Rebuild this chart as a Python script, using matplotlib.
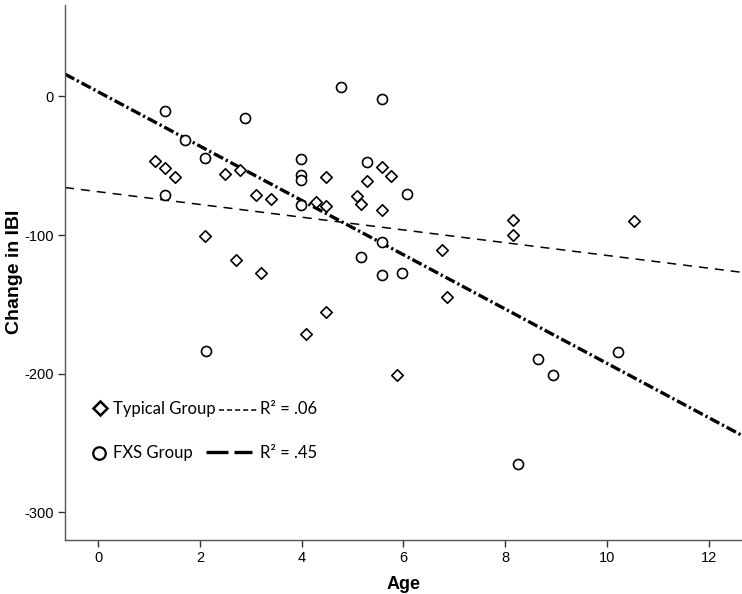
import numpy as np
import matplotlib
matplotlib.use("Agg")
import matplotlib.pyplot as plt
from matplotlib.lines import Line2D

plt.rcParams['font.family'] = ['Liberation Sans', 'DejaVu Sans']
plt.rcParams['lines.scale_dashes'] = False
plt.rcParams['axes.unicode_minus'] = False

# FXS group (circles)
fxs_age = [1.32, 2.89, 1.71, 2.10, 3.98, 3.98, 3.98, 1.32, 3.98, 2.12, 4.77,
           5.57, 5.28, 6.06, 5.57, 5.17, 5.57, 5.97, 8.24, 10.22, 8.64, 8.93]
fxs_ibi = [-10.5, -15.8, -31.4, -44.3, -45.2, -57, -60, -70.8, -78, -183.3, 6.5,
           -1.7, -47.1, -70.4, -105, -115.8, -129, -127.3, -265, -184.3, -189.3, -201]

# Typical group (diamonds)
typ_age = [1.12, 1.32, 1.51, 2.50, 2.79, 3.10, 3.39, 4.47, 4.28, 4.47, 2.10, 2.70,
           3.20, 4.47, 4.08, 5.57, 5.76, 5.28, 5.08, 5.17, 5.57, 6.76, 8.15, 8.15,
           10.52, 6.85, 5.87]
typ_ibi = [-46.2, -51.5, -58.1, -56.2, -53, -71, -74, -58.1, -75.9, -78.7, -100.7,
           -118, -127.5, -155.8, -171.3, -51.2, -57.2, -61.3, -72, -77.3, -82, -111,
           -88.8, -99.8, -90, -144.5, -201]

# fit lines (intercept, slope)
fxs_fit = (3.4, -19.6)
typ_fit = (-68.7, -4.6)

x_lim = (-0.65, 12.65)
y_lim = (-320, 66)

W, H = 742, 594
fig = plt.figure(figsize=(W / 100, H / 100), dpi=100)
ax = fig.add_axes([65 / W, 54 / H, 677 / W, 535 / H])


def px(x, y):
    return x / W, 1 - y / H


xs = np.array(x_lim)
ax.plot(xs, typ_fit[0] + typ_fit[1] * xs, color='black', lw=1.1,
        dashes=(6.5, 5), zorder=2)
ax.plot(xs, fxs_fit[0] + fxs_fit[1] * xs, color='black', lw=2.4,
        dashes=(7.5, 2.2, 1.6, 2.2), zorder=2)

ax.scatter(typ_age, typ_ibi, marker='D', s=34, facecolors='white',
           edgecolors='black', linewidths=1.2, zorder=3)
ax.scatter(fxs_age, fxs_ibi, marker='o', s=52, facecolors='white',
           edgecolors='black', linewidths=1.2, zorder=3)

ax.set_xlim(*x_lim)
ax.set_ylim(*y_lim)
ax.set_xticks(range(0, 13, 2))
ax.set_yticks([0, -100, -200, -300])
ax.tick_params(direction='out', length=5, width=1, colors='#333333',
               labelsize=10.5, labelcolor='black', pad=3)
for lab in ax.get_xticklabels() + ax.get_yticklabels():
    lab.set_family(['Liberation Sans Narrow', 'Liberation Sans'])
for s in ['top', 'right']:
    ax.spines[s].set_visible(False)
for s in ['left', 'bottom']:
    ax.spines[s].set_color('#555555')
    ax.spines[s].set_linewidth(1)

ax.set_xlabel('Age', fontsize=13, fontweight='bold', labelpad=8)
fig.text(*px(15, 272), 'Change in IBI', fontsize=14, fontweight='bold',
         rotation=90, ha='center', va='center')

# hand-made legend
leg_font = ['Lato', 'DejaVu Sans']
fig.add_artist(Line2D([px(100, 0)[0]], [px(0, 408)[1]], marker='D', ms=7,
                      mfc='white', mec='black', mew=1.8, ls='none'))
fig.add_artist(Line2D([px(99, 0)[0]], [px(0, 453)[1]], marker='o', ms=9,
                      mfc='white', mec='black', mew=1.6, ls='none'))
fig.text(*px(113, 409), 'Typical Group', family=leg_font, fontsize=12, va='center')
fig.add_artist(Line2D([px(219, 0)[0], px(258, 0)[0]], [px(0, 410)[1]] * 2,
                      color='black', lw=1.1, dashes=(3.6, 2.2),
                      dash_capstyle='butt'))
fig.text(*px(260, 409), 'R² = .06', family=leg_font, fontsize=12, va='center')
fig.text(*px(113, 453), 'FXS Group', family=leg_font, fontsize=12, va='center')
fig.add_artist(Line2D([px(206, 0)[0], px(228, 0)[0]], [px(0, 452)[1]] * 2,
                      color='black', lw=2.4, solid_capstyle='butt'))
fig.add_artist(Line2D([px(234, 0)[0], px(252, 0)[0]], [px(0, 452)[1]] * 2,
                      color='black', lw=2.4, solid_capstyle='butt'))
fig.text(*px(260, 453), 'R² = .45', family=leg_font, fontsize=12, va='center')

fig.savefig('out.png', dpi=100)
